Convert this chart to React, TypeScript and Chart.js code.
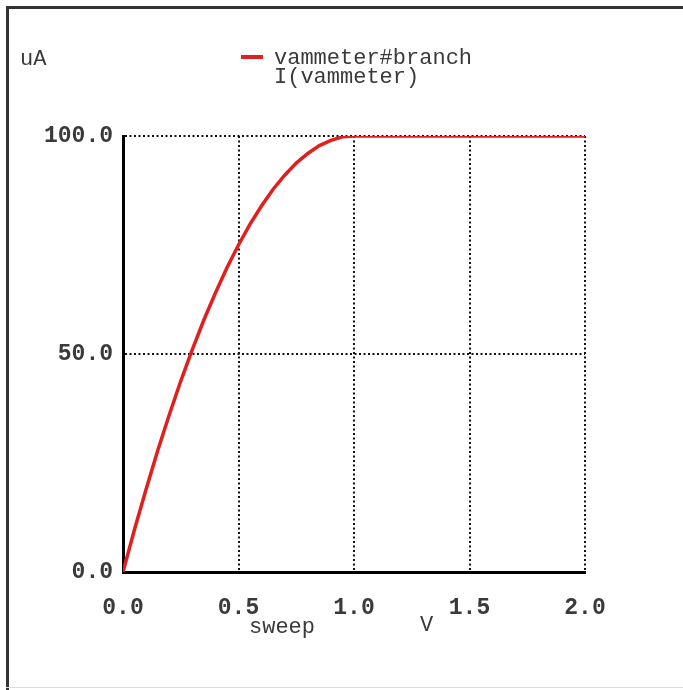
import React, { useEffect, useRef } from "react";
import { Chart, registerables } from "chart.js";

Chart.register(...registerables);

const sweepV = [0, 0.05, 0.1, 0.15, 0.2, 0.25, 0.3, 0.35, 0.4, 0.45, 0.5, 0.55, 0.6, 0.65, 0.7, 0.75, 0.8, 0.85, 0.9, 0.95, 1.0, 1.5, 2.0];
const currentUA = [0, 9.8, 19, 27.8, 36, 43.8, 51, 57.8, 64, 69.8, 75, 79.8, 84, 87.8, 91, 93.8, 96, 97.8, 99, 99.8, 100, 100, 100];
const legendLines = ["vammeter#branch", "I(vammeter)"];
const yUnit = "uA";
const xName = "sweep";
const xUnit = "V";

const FONT = "'Liberation Mono', 'DejaVu Sans Mono', monospace";
const TEXT = "#3a3a3a";
const RED = "#e0201f";

const annotations = {
  id: "spiceText",
  afterDraw(chart: any) {
    const ctx = chart.ctx;
    ctx.save();
    ctx.fillStyle = TEXT;
    ctx.font = `22px ${FONT}`;
    ctx.textBaseline = "middle";
    ctx.textAlign = "left";
    ctx.fillText(yUnit, 20, 59);
    // legend
    ctx.strokeStyle = RED;
    ctx.lineWidth = 4;
    ctx.beginPath();
    ctx.moveTo(241, 57);
    ctx.lineTo(263, 57);
    ctx.stroke();
    ctx.fillText(legendLines[0], 274, 58);
    ctx.fillText(legendLines[1], 274, 77);
    // x axis names
    ctx.fillText(xName, 249, 627);
    ctx.fillText(xUnit, 420, 625);
    ctx.restore();
  },
};

export default function App() {
  const ref = useRef<HTMLCanvasElement | null>(null);
  useEffect(() => {
    if (!ref.current) return;
    const chart = new Chart(ref.current, {
      type: "line",
      data: {
        datasets: [
          {
            label: legendLines[0],
            data: sweepV.map((x, i) => ({ x, y: currentUA[i] })),
            borderColor: RED,
            borderWidth: 3.5,
            pointRadius: 0,
            tension: 0,
          },
        ],
      },
      options: {
        responsive: false,
        animation: false,
        layout: { padding: { left: 0, top: 136, right: 98, bottom: 0 } },
        plugins: { legend: { display: false }, tooltip: { enabled: false } },
        scales: {
          x: {
            type: "linear",
            min: 0,
            max: 2,
            afterFit: (s: any) => {
              s.height = 118;
            },
            ticks: {
              stepSize: 0.5,
              padding: 22,
              color: TEXT,
              font: { family: FONT, size: 23, weight: "bold" },
              callback: (v: any) => Number(v).toFixed(1),
              maxRotation: 0,
            },
            grid: { color: "#111", lineWidth: 2, drawTicks: false },
            border: { color: "#000", width: 3, dash: [2, 2.5] },
          },
          y: {
            type: "linear",
            min: 0,
            max: 100,
            afterFit: (s: any) => {
              s.width = 123;
            },
            ticks: {
              stepSize: 50,
              padding: 10,
              color: TEXT,
              font: { family: FONT, size: 23, weight: "bold" },
              callback: (v: any) => Number(v).toFixed(1),
            },
            grid: { color: "#111", lineWidth: 2, drawTicks: false },
            border: { color: "#000", width: 3, dash: [2, 2.5] },
          },
        },
      },
      plugins: [annotations],
    });
    return () => chart.destroy();
  }, []);
  return (
    <div style={{ position: "fixed", left: 0, top: 0, width: 683, height: 690, background: "#fff" }}>
      <canvas ref={ref} width={683} height={690} style={{ position: "absolute", left: 0, top: 0, width: 683, height: 690 }} />
      <div style={{ position: "absolute", left: 6, top: 6, width: 677, height: 3, background: "#333" }} />
      <div style={{ position: "absolute", left: 6, top: 6, width: 3, height: 684, background: "#333" }} />
      <div style={{ position: "absolute", left: 6, top: 687, width: 677, height: 1, background: "#ddd" }} />
    </div>
  );
}
